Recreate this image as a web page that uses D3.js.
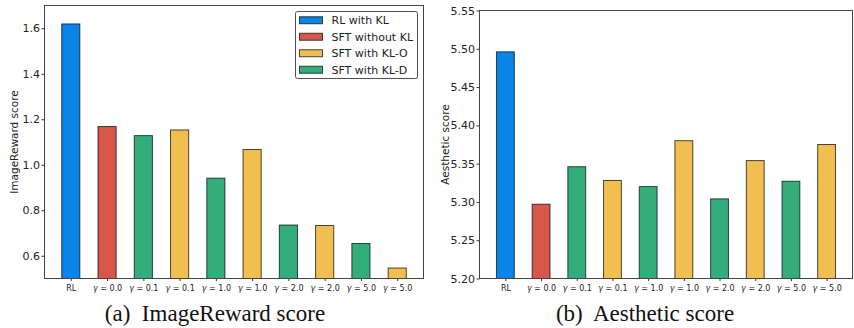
<!DOCTYPE html>
<html><head><meta charset="utf-8">
<script src="https://cdn.jsdelivr.net/npm/d3@7"></script>
<style>body{margin:0;background:#fff}svg{display:block}</style>
</head><body>
<svg id="c" width="854" height="328"></svg>
<script>
const categories = ["RL","γ=0.0","γ=0.1","γ=0.1","γ=1.0","γ=1.0","γ=2.0","γ=2.0","γ=5.0","γ=5.0"];
const groups = ["RL with KL","SFT without KL","SFT with KL-D","SFT with KL-O","SFT with KL-D","SFT with KL-O","SFT with KL-D","SFT with KL-O","SFT with KL-D","SFT with KL-O"];
const imageRewardValues = [1.619,1.168,1.128,1.153,0.941,1.067,0.735,0.733,0.654,0.546];
const aestheticValues = [5.496,5.297,5.346,5.328,5.320,5.380,5.304,5.354,5.327,5.375];
const imageRewardTicks = [0.6,0.8,1.0,1.2,1.4,1.6];
const aestheticTicks = [5.20,5.25,5.30,5.35,5.40,5.45,5.50,5.55];
const legendLabels = ["RL with KL","SFT without KL","SFT with KL-O","SFT with KL-D"];
const colorMap = {"RL with KL":"#0a84e6","SFT without KL":"#d9574a","SFT with KL-O":"#f0bf4f","SFT with KL-D":"#33ae7a"};

const svg = d3.select("#c");

function panel(opt){
  const {x0,x1,y0,y1,values,domain,ticks,fmt,ylabel,ylabelX,caption,captionX} = opt;
  const g = svg.append("g");
  const x = d3.scaleLinear().domain([-0.725, 9.725]).range([x0,x1]);
  const y = d3.scaleLinear().domain(domain).range([y1,y0]);
  const bw = x(0.5)-x(0);
  g.selectAll("rect.bar").data(values).join("rect")
    .attr("x",(d,i)=>x(i)-bw/2).attr("width",bw)
    .attr("y",d=>y(d)).attr("height",d=>y1-y(d))
    .attr("fill",(d,i)=>colorMap[groups[i]])
    .attr("stroke","#000").attr("stroke-opacity",0.7).attr("stroke-width",1);
  // y axis
  const ya = d3.axisLeft(y).tickValues(ticks).tickFormat(fmt).tickSize(3).tickPadding(1.5);
  const yg = g.append("g").attr("transform",`translate(${x0},0)`).call(ya);
  yg.select(".domain").remove();
  yg.selectAll("line").attr("stroke","#333");
  yg.selectAll("text").attr("font-family","DejaVu Sans").attr("font-size","11px").attr("fill","#222");
  // x axis
  const xa = d3.axisBottom(x).tickValues(d3.range(categories.length)).tickFormat("").tickSize(2.5);
  const xg = g.append("g").attr("transform",`translate(0,${y1})`).call(xa);
  xg.select(".domain").remove();
  xg.selectAll("line").attr("stroke","#333");
  xg.selectAll("g.tick").each(function(d){
    const t = d3.select(this).append("text").attr("y",12.5).attr("text-anchor","middle")
      .attr("font-family","DejaVu Sans").attr("font-size","8px").attr("fill","#222");
    const lab = categories[d];
    if(lab.startsWith("γ")){
      t.append("tspan").attr("font-style","italic").text("γ");
      t.append("tspan").text(" = "+lab.slice(2));
    } else t.text(lab);
  });
  // frame
  g.append("rect").attr("x",x0).attr("y",y0).attr("width",x1-x0).attr("height",y1-y0)
    .attr("fill","none").attr("stroke","#444").attr("stroke-width",1);
  // ylabel
  g.append("text").attr("transform",`translate(${ylabelX},${(y0+y1)/2}) rotate(-90)`)
    .attr("text-anchor","middle").attr("font-family","DejaVu Sans").attr("font-size","10.5px").attr("fill","#222").text(ylabel);
  // caption
  g.append("text").attr("x",captionX).attr("y",321).attr("text-anchor","middle")
    .attr("font-family","Liberation Serif").attr("font-size","23px").attr("fill","#111")
    .attr("xml:space","preserve").text(caption);
  return {x,y};
}

panel({x0:44.5,x1:423.5,y0:5.5,y1:278.5,values:imageRewardValues,domain:[0.5,1.7],ticks:imageRewardTicks,
  fmt:d3.format(".1f"),ylabel:"ImageReward score",ylabelX:18,caption:"(a)  ImageReward score",captionX:215});
panel({x0:479.5,x1:852.5,y0:10.5,y1:278.5,values:aestheticValues,domain:[5.2,5.55],ticks:aestheticTicks,
  fmt:d3.format(".2f"),ylabel:"Aesthetic score",ylabelX:449,caption:"(b)  Aesthetic score",captionX:645});

// legend
const lg = svg.append("g");
lg.append("rect").attr("x",295.5).attr("y",11.5).attr("width",122).attr("height",67).attr("rx",2)
  .attr("fill","#fff").attr("fill-opacity",0.85).attr("stroke","#222").attr("stroke-width",0.8);
const ls = d3.scaleBand().domain(legendLabels).range([12,78]);
legendLabels.forEach(l=>{
  const cy = ls(l)+ls.bandwidth()/2;
  lg.append("rect").attr("x",299.5).attr("y",cy-3.5).attr("width",23).attr("height",7)
    .attr("fill",colorMap[l]).attr("stroke","#000").attr("stroke-opacity",0.7).attr("stroke-width",1);
  lg.append("text").attr("x",331.5).attr("y",cy+4).attr("font-family","DejaVu Sans").attr("font-size","11px")
    .attr("fill","#222").text(l);
});
</script>
</body></html>
